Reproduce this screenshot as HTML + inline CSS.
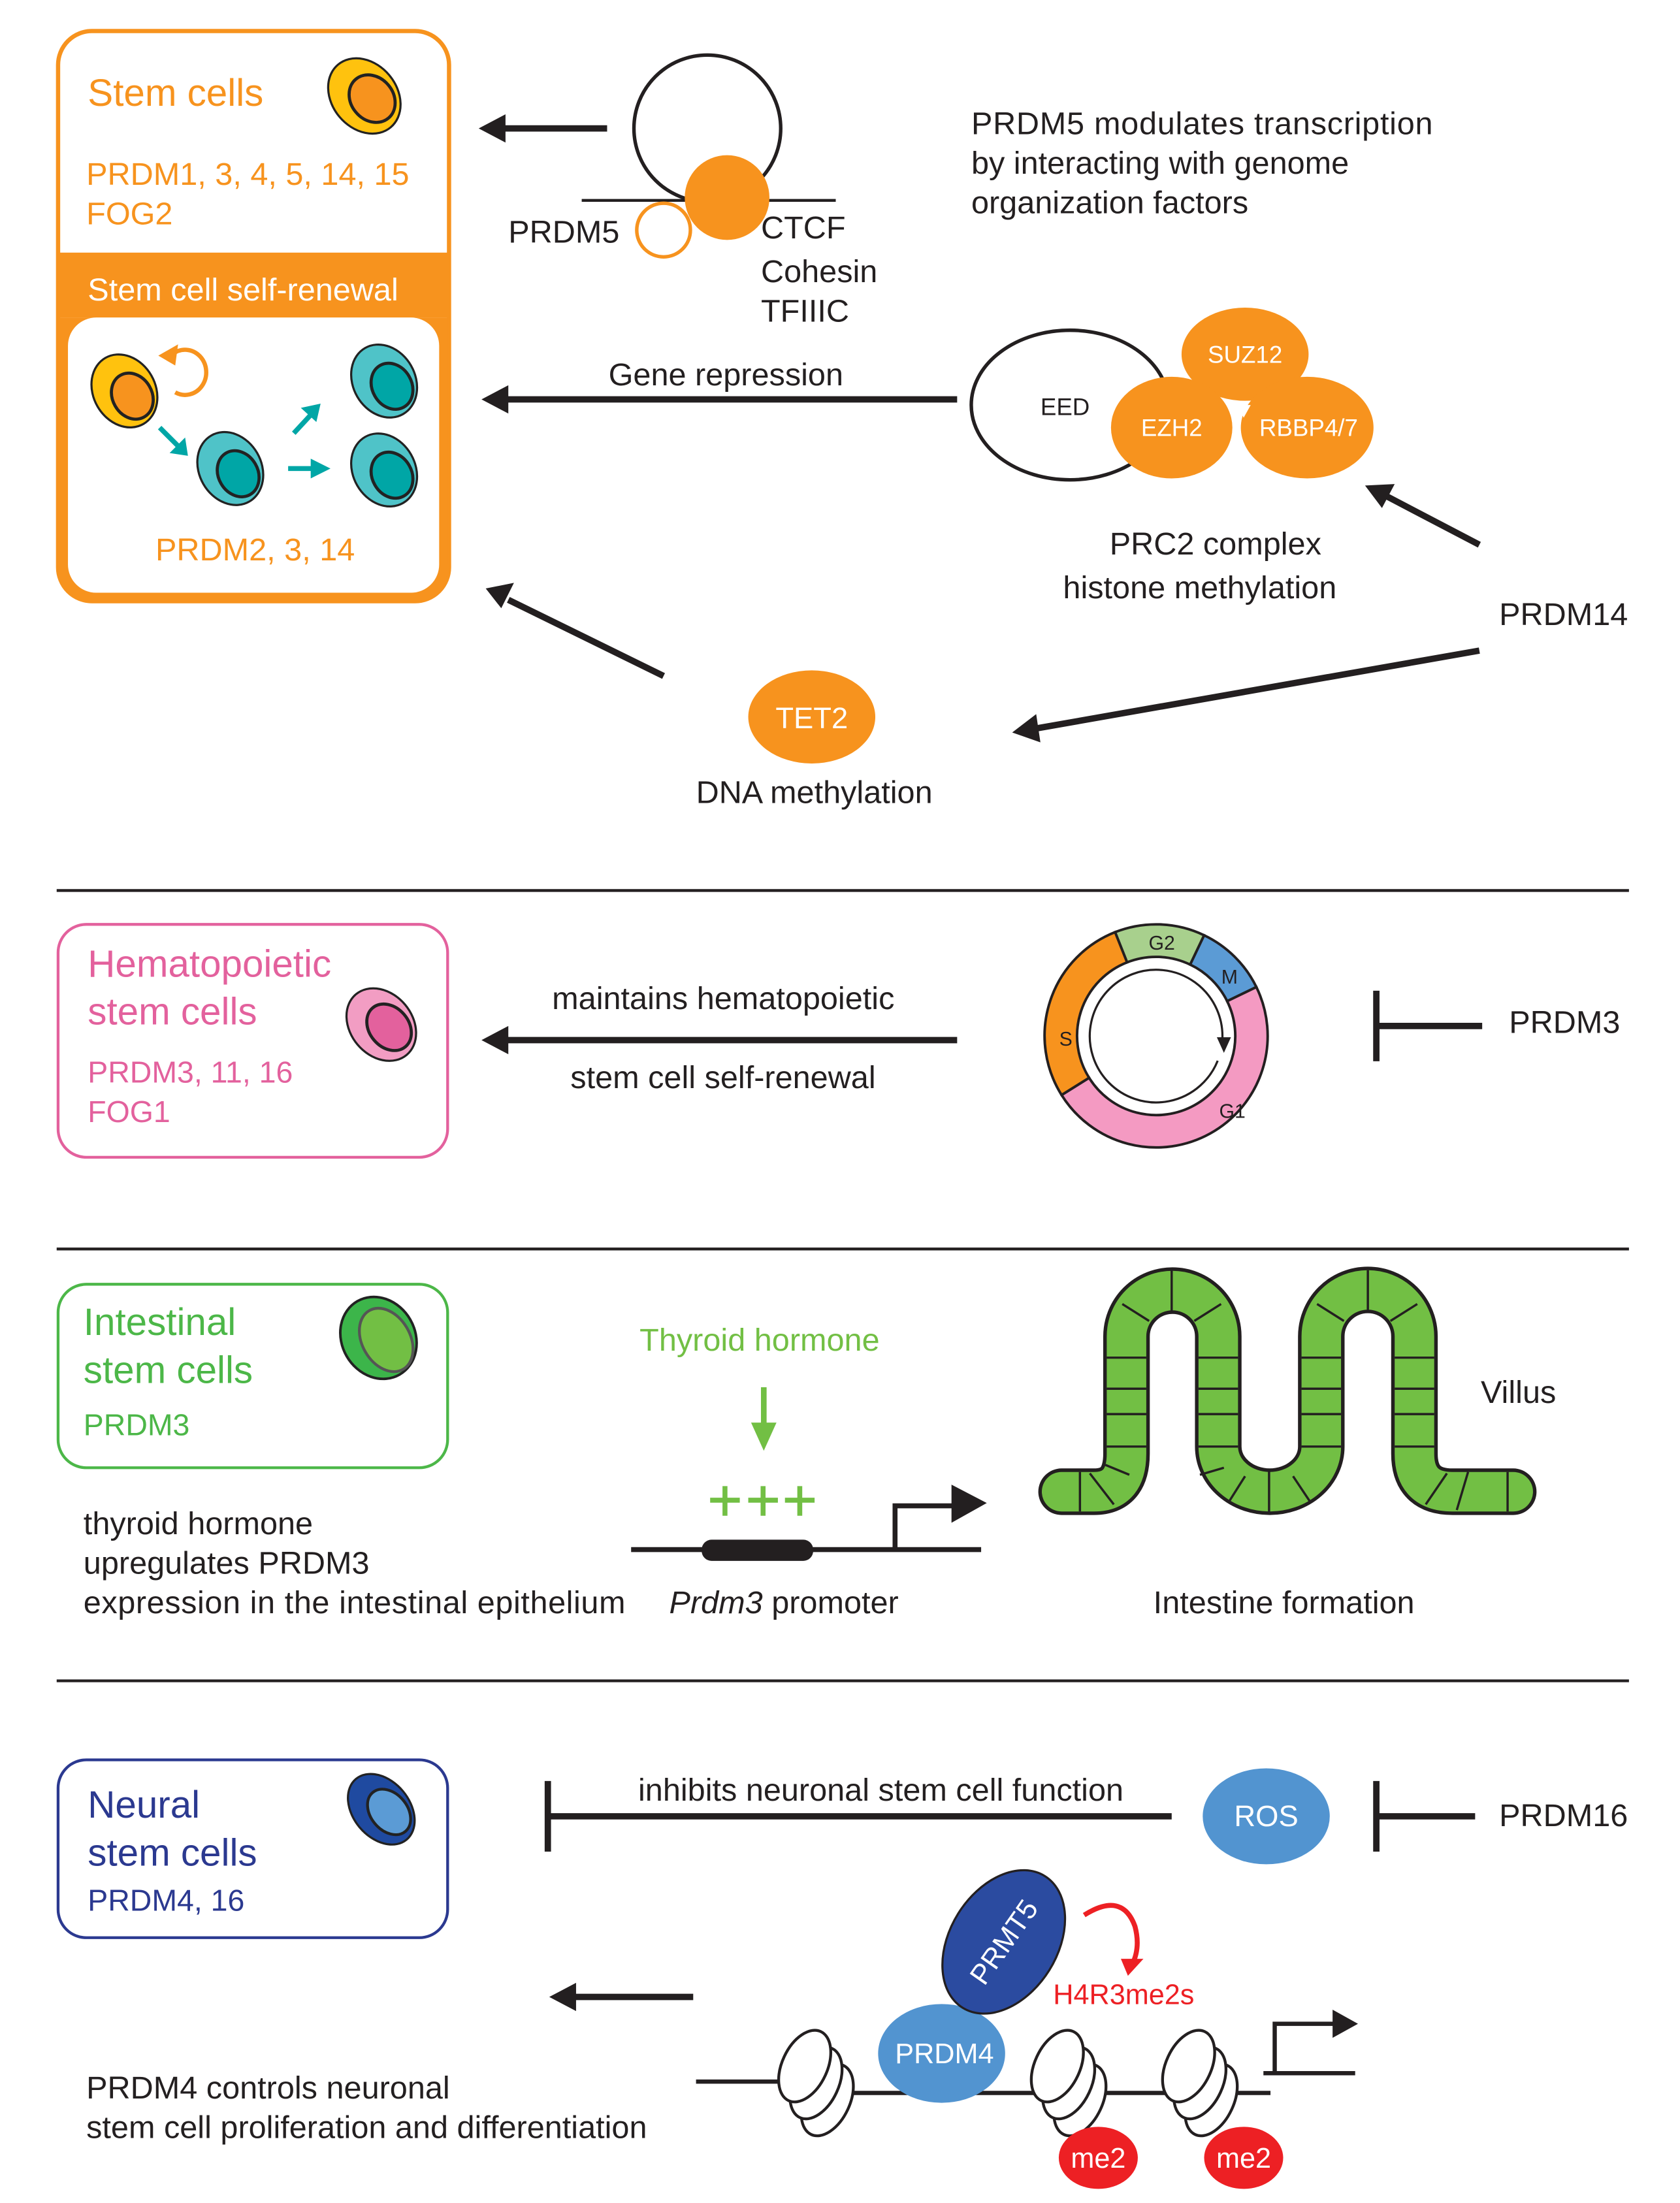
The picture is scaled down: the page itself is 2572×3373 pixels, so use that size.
<!DOCTYPE html>
<html><head><meta charset="utf-8"><style>
html,body{margin:0;padding:0;background:#fff}
svg{display:block}
text{font-family:"Liberation Sans",sans-serif}
</style></head><body>
<svg width="2572" height="3373" viewBox="0 0 1190 1561" xmlns="http://www.w3.org/2000/svg">
<rect width="1190" height="1561" fill="#fff"/>

<!-- ===== Section 1 ===== -->
<rect x="41" y="22" width="277" height="404" rx="24" fill="#fff" stroke="#f7931e" stroke-width="3"/>
<rect x="42" y="179" width="275" height="46" fill="#f7931e"/>
<path d="M42,225 L42,400 Q42,426 68,426 L292,426 Q317,426 317,400 L317,225 Z" fill="#f7931e"/>
<rect x="48" y="225" width="263" height="195" rx="20" fill="#fff"/>
<text x="62" y="75" font-size="27" fill="#f7931e">Stem cells</text>
<text x="61" y="131" font-size="22.5" fill="#f7931e">PRDM1, 3, 4, 5, 14, 15</text>
<text x="61" y="159" font-size="22.5" fill="#f7931e">FOG2</text>
<text x="62" y="213" font-size="22.5" fill="#fff">Stem cell self-renewal</text>
<text x="110" y="397" font-size="22.5" fill="#f7931e">PRDM2, 3, 14</text>

<!-- cells -->
<g transform="translate(258,68) rotate(-40)"><ellipse rx="23" ry="29" fill="#ffc20e" stroke="#222" stroke-width="1.5"/><ellipse cx="3" cy="5" rx="15" ry="18" fill="#f7931e" stroke="#222" stroke-width="2.2"/></g>
<g transform="translate(88,277) rotate(-30)"><ellipse rx="22" ry="27" fill="#ffc20e" stroke="#222" stroke-width="1.5"/><ellipse cx="3" cy="6" rx="14" ry="17" fill="#f7931e" stroke="#222" stroke-width="2.2"/></g>
<g transform="translate(163,332) rotate(-30)"><ellipse rx="22" ry="27" fill="#4fc3c8" stroke="#222" stroke-width="1.5"/><ellipse cx="3" cy="6" rx="14" ry="17" fill="#00a6a6" stroke="#222" stroke-width="2.2"/></g>
<g transform="translate(272,270) rotate(-30)"><ellipse rx="22" ry="27" fill="#4fc3c8" stroke="#222" stroke-width="1.5"/><ellipse cx="3" cy="6" rx="14" ry="17" fill="#00a6a6" stroke="#222" stroke-width="2.2"/></g>
<g transform="translate(272,333) rotate(-30)"><ellipse rx="22" ry="27" fill="#4fc3c8" stroke="#222" stroke-width="1.5"/><ellipse cx="3" cy="6" rx="14" ry="17" fill="#00a6a6" stroke="#222" stroke-width="2.2"/></g>
<path d="M122,251 A15,16 0 1 1 124,278" fill="none" stroke="#f7931e" stroke-width="3"/>
<polygon points="112,252 126,244 124,259" fill="#f7931e"/>
<g stroke="#00a6a6" stroke-width="3.5" fill="#00a6a6">
<line x1="113" y1="303" x2="126" y2="316"/><polygon points="133,323 120,321 131,310" stroke="none"/>
<line x1="208" y1="307" x2="220" y2="294"/><polygon points="227,286 224,299 213,289" stroke="none"/>
<line x1="204" y1="332" x2="222" y2="332"/><polygon points="234,332 220,325 220,339" stroke="none"/>
</g>

<g stroke="#231f20" stroke-width="4.5" fill="#231f20">
<line x1="430" y1="91" x2="355" y2="91"/><polygon points="339,91 358,81 358,101" stroke="none"/>
<line x1="678" y1="283" x2="358" y2="283"/><polygon points="341,283 360,273 360,293" stroke="none"/>
<line x1="470" y1="479" x2="360" y2="425"/><polygon points="344,417 364,413 355,431" stroke="none"/>
<line x1="1048" y1="386" x2="983" y2="352"/><polygon points="967,344 988,343 979,360" stroke="none"/>
<line x1="1048" y1="461" x2="735" y2="516"/><polygon points="717,519 734,506 737,526" stroke="none"/>
</g>

<line x1="412" y1="142" x2="592" y2="142" stroke="#231f20" stroke-width="2"/>
<circle cx="501" cy="91" r="52" fill="none" stroke="#231f20" stroke-width="2.5"/>
<circle cx="515" cy="140" r="30" fill="#f7931e"/>
<circle cx="470" cy="163" r="19" fill="#fff" stroke="#f7931e" stroke-width="2.5"/>
<text x="360" y="172" font-size="22.5" fill="#231f20">PRDM5</text>
<text x="539" y="169" font-size="22.5" fill="#231f20">CTCF</text>
<text x="539" y="200" font-size="22.5" fill="#231f20">Cohesin</text>
<text x="539" y="228" font-size="22.5" fill="#231f20">TFIIIC</text>
<text x="688" y="95" font-size="22.5" fill="#231f20" textLength="327">PRDM5 modulates transcription</text>
<text x="688" y="123" font-size="22.5" fill="#231f20">by interacting with genome</text>
<text x="688" y="151" font-size="22.5" fill="#231f20">organization factors</text>
<text x="431" y="273" font-size="22.5" fill="#231f20">Gene repression</text>

<ellipse cx="758" cy="287" rx="70" ry="53" fill="#fff" stroke="#231f20" stroke-width="2.5"/>
<text x="737" y="294" font-size="17" fill="#231f20">EED</text>
<ellipse cx="882" cy="251" rx="45" ry="33" fill="#f7931e"/>
<ellipse cx="830" cy="303" rx="43" ry="36" fill="#f7931e"/>
<ellipse cx="926" cy="303" rx="47" ry="36" fill="#f7931e"/>
<polygon points="877,287 886,287 881,296" fill="#fff"/>
<text x="882" y="257" font-size="17" fill="#fff" text-anchor="middle">SUZ12</text>
<text x="830" y="309" font-size="17" fill="#fff" text-anchor="middle">EZH2</text>
<text x="927" y="309" font-size="17" fill="#fff" text-anchor="middle">RBBP4/7</text>
<text x="786" y="393" font-size="22.5" fill="#231f20">PRC2 complex</text>
<text x="753" y="424" font-size="22.5" fill="#231f20">histone methylation</text>
<text x="1062" y="443" font-size="22.5" fill="#231f20">PRDM14</text>
<ellipse cx="575" cy="508" rx="45" ry="33" fill="#f7931e"/>
<text x="575" y="516" font-size="21" fill="#fff" text-anchor="middle">TET2</text>
<text x="493" y="569" font-size="22.5" fill="#231f20">DNA methylation</text>

<line x1="40" y1="631" x2="1154" y2="631" stroke="#231f20" stroke-width="2"/>

<!-- ===== Section 2 ===== -->
<rect x="41" y="655" width="276" height="165" rx="20" fill="#fff" stroke="#e3619d" stroke-width="2"/>
<text x="62" y="692" font-size="27" fill="#e3619d">Hematopoietic</text>
<text x="62" y="726" font-size="27" fill="#e3619d">stem cells</text>
<text x="62" y="767" font-size="21.5" fill="#e3619d">PRDM3, 11, 16</text>
<text x="62" y="795" font-size="21.5" fill="#e3619d">FOG1</text>
<g transform="translate(270,726) rotate(-40)"><ellipse rx="22" ry="28" fill="#f29dc3" stroke="#222" stroke-width="1.5"/><ellipse cx="3" cy="5" rx="14" ry="18" fill="#e3619d" stroke="#222" stroke-width="2.2"/></g>
<line x1="678" y1="737" x2="358" y2="737" stroke="#231f20" stroke-width="4.5"/>
<polygon points="341,737 360,727 360,747" fill="#231f20"/>
<text x="391" y="715" font-size="22.5" fill="#231f20">maintains hematopoietic</text>
<text x="404" y="771" font-size="22.5" fill="#231f20">stem cell self-renewal</text>

<g stroke="#231f20" stroke-width="1.8">
<path d="M789.9,660.5 A79,79 0 0 1 853,662.7 L843.1,683.5 A56,56 0 0 0 798.4,681.9 Z" fill="#a8d08d"/>
<path d="M853,662.7 A79,79 0 0 1 890,699.4 L869.3,709.4 A56,56 0 0 0 843.1,683.5 Z" fill="#5b9bd5"/>
<path d="M890,699.4 A79,79 0 0 1 752,775.9 L771.5,763.7 A56,56 0 0 0 869.3,709.4 Z" fill="#f49ac2"/>
<path d="M752,775.9 A79,79 0 0 1 789.9,660.5 L798.4,681.9 A56,56 0 0 0 771.5,763.7 Z" fill="#f7931e"/>
</g>
<path d="M862.6,751.6 A47,47 0 1 1 865.9,736.5" fill="none" stroke="#231f20" stroke-width="1.5"/>
<polygon points="862,735 872,735 867,746" fill="#231f20"/>
<text x="823" y="673" font-size="14" fill="#231f20" text-anchor="middle">G2</text>
<text x="871" y="697" font-size="14" fill="#231f20" text-anchor="middle">M</text>
<text x="755" y="741" font-size="14" fill="#231f20" text-anchor="middle">S</text>
<text x="873" y="792" font-size="14" fill="#231f20" text-anchor="middle">G1</text>

<line x1="975" y1="702" x2="975" y2="752" stroke="#231f20" stroke-width="4.5"/>
<line x1="975" y1="727" x2="1050" y2="727" stroke="#231f20" stroke-width="4.5"/>
<text x="1069" y="732" font-size="22.5" fill="#231f20">PRDM3</text>

<line x1="40" y1="885" x2="1154" y2="885" stroke="#231f20" stroke-width="2"/>

<!-- ===== Section 3 ===== -->
<rect x="41" y="910" width="276" height="130" rx="20" fill="#fff" stroke="#4cb748" stroke-width="2"/>
<text x="59" y="946" font-size="27" fill="#4cb748">Intestinal</text>
<text x="59" y="980" font-size="27" fill="#4cb748">stem cells</text>
<text x="59" y="1017" font-size="21.5" fill="#4cb748">PRDM3</text>
<g transform="translate(268,948) rotate(-30)"><ellipse rx="26" ry="30" fill="#3cb54a" stroke="#222" stroke-width="1.8"/><ellipse cx="4" cy="4" rx="17" ry="24" fill="#72bf44" stroke="#555" stroke-width="2"/></g>
<text x="453" y="957" font-size="22.5" fill="#72bf44">Thyroid hormone</text>
<line x1="541" y1="983" x2="541" y2="1010" stroke="#72bf44" stroke-width="4"/>
<polygon points="532,1008 550,1008 541,1028" fill="#72bf44"/>
<g stroke="#72bf44" stroke-width="3.5">
<line x1="503" y1="1063" x2="524" y2="1063"/><line x1="513.5" y1="1053" x2="513.5" y2="1074"/>
<line x1="530" y1="1063" x2="551" y2="1063"/><line x1="540.5" y1="1053" x2="540.5" y2="1074"/>
<line x1="556" y1="1063" x2="577" y2="1063"/><line x1="566.5" y1="1053" x2="566.5" y2="1074"/>
</g>
<line x1="447" y1="1098" x2="695" y2="1098" stroke="#231f20" stroke-width="3.5"/>
<rect x="497" y="1091" width="79" height="15" rx="7" fill="#231f20"/>
<path d="M634,1098 L634,1067 L678,1067" fill="none" stroke="#231f20" stroke-width="3.5"/>
<polygon points="674,1052 699,1065 674,1079" fill="#231f20"/>
<text x="59" y="1087" font-size="22.5" fill="#231f20">thyroid hormone</text>
<text x="59" y="1115" font-size="22.5" fill="#231f20">upregulates PRDM3</text>
<text x="59" y="1143" font-size="22.5" fill="#231f20" textLength="384">expression in the intestinal epithelium</text>
<text x="474" y="1143" font-size="22.5" fill="#231f20"><tspan font-style="italic">Prdm3</tspan> promoter</text>

<path d="M752,1057 L775,1057 Q798,1057 798,1030 L798,947 A32.5,32.5 0 0 1 863,947 L863,1025 A36.5,32 0 0 0 936,1025 L936,947 A33,33 0 0 1 1002,947 L1002,1030 Q1002,1057 1029,1057 L1072,1057" fill="none" stroke="#231f20" stroke-width="33" stroke-linecap="round" stroke-linejoin="round"/>
<path d="M752,1057 L775,1057 Q798,1057 798,1030 L798,947 A32.5,32.5 0 0 1 863,947 L863,1025 A36.5,32 0 0 0 936,1025 L936,947 A33,33 0 0 1 1002,947 L1002,1030 Q1002,1057 1029,1057 L1072,1057" fill="none" stroke="#72bf44" stroke-width="28" stroke-linecap="round" stroke-linejoin="round"/>
<g stroke="#231f20" stroke-width="1.6">
<line x1="784" y1="962" x2="812" y2="962"/><line x1="784" y1="984" x2="812" y2="984"/><line x1="784" y1="1002" x2="812" y2="1002"/><line x1="784" y1="1025" x2="812" y2="1025"/>
<line x1="783" y1="1038" x2="800" y2="1045"/><line x1="772" y1="1044" x2="789" y2="1066"/><line x1="765" y1="1043" x2="765" y2="1071"/>
<line x1="795" y1="924" x2="814" y2="936"/><line x1="830" y1="900" x2="830" y2="929"/><line x1="865" y1="924" x2="846" y2="936"/>
<line x1="849" y1="962" x2="877" y2="962"/><line x1="849" y1="984" x2="877" y2="984"/><line x1="849" y1="1002" x2="877" y2="1002"/><line x1="849" y1="1025" x2="877" y2="1025"/>
<line x1="850" y1="1045" x2="867" y2="1040"/><line x1="870" y1="1065" x2="882" y2="1046"/><line x1="899" y1="1042" x2="899" y2="1072"/><line x1="928" y1="1064" x2="916" y2="1046"/>
<line x1="922" y1="962" x2="950" y2="962"/><line x1="922" y1="984" x2="950" y2="984"/><line x1="922" y1="1002" x2="950" y2="1002"/><line x1="922" y1="1025" x2="950" y2="1025"/>
<line x1="933" y1="924" x2="952" y2="936"/><line x1="969" y1="900" x2="969" y2="929"/><line x1="1004" y1="924" x2="985" y2="936"/>
<line x1="988" y1="962" x2="1016" y2="962"/><line x1="988" y1="984" x2="1016" y2="984"/><line x1="988" y1="1002" x2="1016" y2="1002"/><line x1="988" y1="1025" x2="1016" y2="1025"/>
<line x1="1010" y1="1066" x2="1025" y2="1044"/><line x1="1032" y1="1070" x2="1040" y2="1043"/><line x1="1068" y1="1043" x2="1068" y2="1071"/>
</g>
<text x="1049" y="994" font-size="22.5" fill="#231f20">Villus</text>
<text x="817" y="1143" font-size="22.5" fill="#231f20">Intestine formation</text>

<line x1="40" y1="1191" x2="1154" y2="1191" stroke="#231f20" stroke-width="2"/>

<!-- ===== Section 4 ===== -->
<rect x="41" y="1247" width="276" height="126" rx="20" fill="#fff" stroke="#2b3990" stroke-width="2"/>
<text x="62" y="1288" font-size="27" fill="#2b3990">Neural</text>
<text x="62" y="1322" font-size="27" fill="#2b3990">stem cells</text>
<text x="62" y="1354" font-size="21.5" fill="#2b3990">PRDM4, 16</text>
<g transform="translate(270,1282) rotate(-40)"><ellipse rx="20" ry="28" fill="#1f4aa0" stroke="#222" stroke-width="1.5"/><ellipse cx="3" cy="5" rx="13" ry="18" fill="#5b9bd5" stroke="#222" stroke-width="2"/></g>

<g stroke="#231f20" stroke-width="4.5">
<line x1="388" y1="1262" x2="388" y2="1312"/><line x1="388" y1="1287" x2="830" y2="1287"/>
<line x1="975" y1="1262" x2="975" y2="1312"/><line x1="975" y1="1287" x2="1045" y2="1287"/>
<line x1="491" y1="1415" x2="405" y2="1415"/>
</g>
<polygon points="389,1415 408,1405 408,1425" fill="#231f20"/>
<text x="452" y="1276" font-size="22.5" fill="#231f20">inhibits neuronal stem cell function</text>
<ellipse cx="897" cy="1287" rx="45" ry="34" fill="#5294d0"/>
<text x="897" y="1294" font-size="21" fill="#fff" text-anchor="middle">ROS</text>
<text x="1062" y="1294" font-size="22.5" fill="#231f20">PRDM16</text>
<text x="61" y="1487" font-size="22.5" fill="#231f20">PRDM4 controls neuronal</text>
<text x="61" y="1515" font-size="22.5" fill="#231f20">stem cell proliferation and differentiation</text>

<line x1="493" y1="1475" x2="560" y2="1475" stroke="#231f20" stroke-width="3"/>
<line x1="590" y1="1483" x2="900" y2="1483" stroke="#231f20" stroke-width="3"/>
<line x1="895" y1="1469" x2="960" y2="1469" stroke="#231f20" stroke-width="3"/>
<path d="M903,1469 L903,1434 L946,1434" fill="none" stroke="#231f20" stroke-width="3"/>
<polygon points="944,1424 962,1434 944,1444" fill="#231f20"/>
<g fill="#fff" stroke="#231f20" stroke-width="2">
<g transform="translate(578,1476)"><ellipse cx="8" cy="12" rx="16" ry="27" transform="rotate(25 8 12)"/><ellipse cx="0" cy="0" rx="16" ry="27" transform="rotate(25)"/><ellipse cx="-8" cy="-12" rx="16" ry="27" transform="rotate(25 -8 -12)"/></g>
<g transform="translate(757,1476)"><ellipse cx="8" cy="12" rx="16" ry="27" transform="rotate(25 8 12)"/><ellipse cx="0" cy="0" rx="16" ry="27" transform="rotate(25)"/><ellipse cx="-8" cy="-12" rx="16" ry="27" transform="rotate(25 -8 -12)"/></g>
<g transform="translate(850,1476)"><ellipse cx="8" cy="12" rx="16" ry="27" transform="rotate(25 8 12)"/><ellipse cx="0" cy="0" rx="16" ry="27" transform="rotate(25)"/><ellipse cx="-8" cy="-12" rx="16" ry="27" transform="rotate(25 -8 -12)"/></g>
</g>
<ellipse cx="667" cy="1455" rx="45" ry="35" fill="#5294d0"/>
<text x="669" y="1462" font-size="20" fill="#fff" text-anchor="middle">PRDM4</text>
<ellipse cx="711" cy="1376" rx="38" ry="55" transform="rotate(32 711 1376)" fill="#2b4ba0" stroke="#231f20" stroke-width="1.5"/>
<text x="711" y="1383" font-size="20" fill="#fff" text-anchor="middle" transform="rotate(-55 711 1376)">PRMT5</text>
<path d="M768,1357 Q795,1340 804,1365 Q808,1380 802,1392" fill="none" stroke="#ed2024" stroke-width="3.5"/>
<polygon points="794,1388 810,1388 799,1400" fill="#ed2024"/>
<text x="746" y="1420" font-size="20" fill="#ed2024">H4R3me2s</text>
<ellipse cx="778" cy="1529" rx="28" ry="22" fill="#ed2024"/>
<ellipse cx="881" cy="1529" rx="28" ry="22" fill="#ed2024"/>
<text x="778" y="1536" font-size="20" fill="#fff" text-anchor="middle">me2</text>
<text x="881" y="1536" font-size="20" fill="#fff" text-anchor="middle">me2</text>
</svg>
</body></html>
